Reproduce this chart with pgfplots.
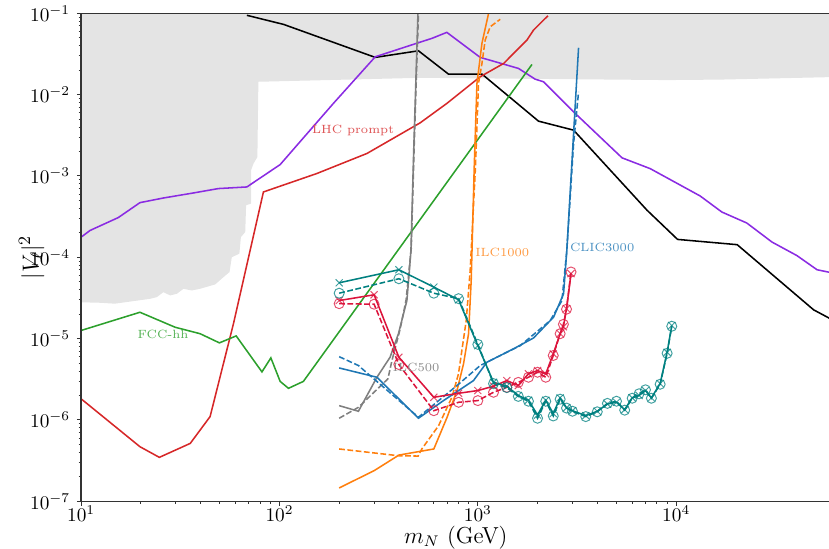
\documentclass[border=0pt]{standalone}
\usepackage{pgfplots}
\pgfplotsset{compat=1.18}
\definecolor{tabblue}{HTML}{1F77B4}
\definecolor{taborange}{HTML}{FF7F0E}
\definecolor{tabgreen}{HTML}{2CA02C}
\definecolor{tabred}{HTML}{D62728}
\definecolor{tabgray}{HTML}{7F7F7F}
\definecolor{violetline}{HTML}{8A2BE2}
\definecolor{crimson}{HTML}{DC143C}
\definecolor{tealc}{HTML}{008080}
\definecolor{shade}{HTML}{E4E4E4}
\begin{document}
\begin{tikzpicture}
\begin{axis}[name=ax,
  scale only axis, width=389pt, height=253.3pt,
  axis on top,
  xmode=log, ymode=log,
  xmin=10, xmax=6e4, ymin=1e-7, ymax=1e-1,
  xtick={10,100,1000,10000},
  ytick={1e-7,1e-6,1e-5,1e-4,1e-3,1e-2,1e-1},
  tick align=outside, xtick pos=bottom, ytick pos=left,
  major tick length=2.2pt, minor tick length=1.3pt,
  axis line style={line width=0.7pt, black!80},
  every tick/.style={black!80, line width=0.5pt},
  xticklabel style={yshift=3.5pt},
  xlabel={$m_N$ (GeV)},
  ylabel={$|V_\ell|^2$},
  xlabel style={font=\fontsize{12}{14}\selectfont, at={(axis description cs:0.5,-0.074)}, anchor=center},
  ylabel style={font=\fontsize{13}{15}\selectfont, at={(axis description cs:-0.066,0.5)}, anchor=center},
  clip=true,
  every axis plot/.append style={line width=0.8pt},
]
% excluded region
\addplot[fill=shade, draw=none] coordinates {
(10,0.1)(6e4,0.1)(6e4,0.01642)(1.669e4,0.01531)(9015,0.0151)(512,0.0161)(78.3,0.0144)
(77.4,1.71e-3)(74,1.42e-3)(71.9,1.175e-3)(71.9,4.57e-4)(67.9,4.36e-4)(67.2,2.04e-4)
(63.9,1.77e-4)(62.8,1.11e-4)(57.5,1.0e-4)(56,6.58e-5)(52.2,5.7e-5)(47.4,4.64e-5)
(39.8,4.1e-5)(36.1,3.91e-5)(32.8,4.1e-5)(30.4,3.56e-5)(28.1,3.4e-5)(26,3.73e-5)
(24.1,3.24e-5)(22.3,3.09e-5)(14.8,2.69e-5)(12.5,2.76e-5)(10,2.8e-5)};
% black
\addplot[black, line width=0.8pt] coordinates {
(68.5,0.0945)(105,0.073)(304,0.0287)(502,0.0346)(711,0.0179)(1049,0.0179)(2023,0.00472)
(3039,0.00366)(7130,3.79e-4)(1.016e4,1.66e-4)(2.03e4,1.43e-4)(4.93e4,2.26e-5)(6e4,1.75e-5)};
% purple
\addplot[violetline] coordinates {
(10,1.77e-4)(11.1,2.14e-4)(15.4,3.08e-4)(19.8,4.7e-4)(26,5.36e-4)(36.8,6.18e-4)(49.2,7.0e-4)
(68.5,7.33e-4)(100.8,1.38e-3)(187,7.8e-3)(304,0.0292)(502,0.0435)(587,0.0492)(698,0.0583)
(1028,0.0287)(1603,0.021)(1945,0.0155)(2143,0.0144)(3039,6.14e-3)(5335,1.67e-3)(7400,1.23e-3)
(1.32e4,5.68e-4)(1.7e4,3.6e-4)(2.27e4,2.64e-4)(3.04e4,1.54e-4)(4.06e4,1.05e-4)(5.13e4,7.03e-5)(6e4,6.5e-5)};
% LHC prompt
\addplot[tabred] coordinates {
(10,1.82e-6)(19.8,4.69e-7)(24.8,3.47e-7)(35.5,5.15e-7)(44.7,1.1e-6)(58.6,1.52e-5)(83,6.36e-4)
(154,1.07e-3)(276,1.89e-3)(512,4.5e-3)(698,7.8e-3)(1028,0.0166)(1350,0.0242)(1769,0.0469)
(1910,0.0623)(2257,0.0934)};
% FCC-hh
\addplot[tabgreen] coordinates {
(10,1.26e-5)(19.8,2.11e-5)(29.8,1.38e-5)(39.8,1.15e-5)(49.8,8.87e-6)(60.5,1.08e-5)(81.6,3.9e-6)
(90.5,5.8e-6)(100.8,2.98e-6)(111,2.45e-6)(132,2.98e-6)(1875,0.0235)};
% ILC500
\addplot[tabgray] coordinates {
(200,1.5e-6)(250,1.28e-6)(310,3.35e-6)(361,5.9e-6)(398,1.15e-5)(439,2.94e-5)(452,6.9e-5)
(460,1.22e-4)(475,2.07e-3)(499,0.1)};
\addplot[tabgray, dash pattern=on 3pt off 1.3pt] coordinates {
(200,1.05e-6)(250,1.43e-6)(352,3.2e-6)(369,5.37e-6)(406,1.32e-5)(435,3.0e-5)(450,7e-5)
(462,1.3e-4)(477,2.1e-3)(502,0.1)};
% ILC1000
\addplot[taborange] coordinates {
(200,1.46e-7)(300,2.38e-7)(400,3.7e-7)(600,4.4e-7)(700,1.08e-6)(785,2.3e-6)(847,4.9e-6)
(898,1.15e-5)(926,5.2e-5)(959,1.29e-3)(990,0.01375)(1049,0.0428)(1133,0.1)};
\addplot[taborange, dash pattern=on 3pt off 1.3pt] coordinates {
(200,4.4e-7)(400,3.63e-7)(500,3.6e-7)(522,4.4e-7)(634,8.5e-7)(740,1.9e-6)(799,3.69e-6)
(874,1.67e-5)(915,6.9e-5)(973,1.29e-3)(1008,0.01375)(1049,0.0242)(1089,0.0469)(1155,0.0684)(1297,0.0844)};
% CLIC3000
\addplot[tabblue] coordinates {
(200,4.36e-6)(310,3.35e-6)(502,1.05e-6)(671,1.73e-6)(951,3.05e-6)(1111,5.13e-6)(1514,7.5e-6)
(1910,1.02e-5)(2410,1.84e-5)(2705,3.56e-5)(2810,1.22e-4)(3039,3.33e-3)(3220,0.0377)};
\addplot[tabblue, dash pattern=on 3pt off 1.3pt] coordinates {
(200,6.0e-6)(250,4.67e-6)(502,1.08e-6)(785,2.65e-6)(1028,4.67e-6)(1297,6.2e-6)(1637,8.2e-6)
(2318,1.67e-5)(2655,2.94e-5)(2810,1.22e-4)(3039,2.5e-3)(3220,0.0108)};
% crimson
\addplot[crimson, mark=x, mark size=2.6pt, mark options={solid, line width=0.5pt, opacity=0.75}] coordinates {
(200,2.94e-5)(300,3.46e-5)(400,5.9e-6)(600,1.9e-6)(800,2.13e-6)(1000,2.3e-6)(1200,2.6e-6)
(1400,3.05e-6)(1600,2.65e-6)(1800,3.69e-6)(2000,4.05e-6)(2200,3.69e-6)(2400,6.5e-6)(2600,1.15e-5)
(2700,1.4e-5)(2800,2.33e-5)(2950,6.3e-5)};
\addplot[crimson, dash pattern=on 3pt off 1.3pt, mark=o, mark size=2.6pt, mark options={solid, line width=0.5pt, opacity=0.75}] coordinates {
(200,2.69e-5)(300,2.65e-5)(400,4.8e-6)(600,1.3e-6)(800,1.65e-6)(1000,1.73e-6)(1200,2.19e-6)
(1400,2.52e-6)(1600,2.9e-6)(1800,3.35e-6)(2000,3.86e-6)(2200,3.35e-6)(2400,6.2e-6)(2600,1.15e-5)
(2700,1.5e-5)(2800,2.3e-5)(2950,6.6e-5)};
% teal
\addplot[tealc, mark=x, mark size=2.6pt, mark options={solid, line width=0.5pt, opacity=0.75}] coordinates {
(200,4.86e-5)(400,7.03e-5)(600,4.3e-5)(800,3.0e-5)(1000,8.2e-6)(1200,2.9e-6)(1400,2.6e-6)
(1600,2.0e-6)(1800,1.75e-6)(2000,1.15e-6)(2200,1.75e-6)(2400,1.2e-6)(2600,1.87e-6)(2800,1.41e-6)
(3000,1.3e-6)(3500,1.13e-6)(4000,1.28e-6)(4500,1.57e-6)(5000,1.65e-6)(5500,1.34e-6)(6000,1.87e-6)
(6500,2.0e-6)(7000,2.3e-6)(7500,1.87e-6)(8300,2.8e-6)(9000,6.8e-6)(9500,1.45e-5)};
\addplot[tealc, dash pattern=on 3pt off 1.3pt, mark=o, mark size=2.6pt, mark options={solid, line width=0.5pt, opacity=0.75}] coordinates {
(200,3.62e-5)(400,5.45e-5)(600,3.62e-5)(800,3.1e-5)(1000,8.5e-6)(1200,2.8e-6)(1400,2.5e-6)
(1600,1.95e-6)(1800,1.7e-6)(2000,1.05e-6)(2200,1.7e-6)(2400,1.12e-6)(2600,1.8e-6)(2800,1.4e-6)
(3000,1.28e-6)(3500,1.1e-6)(4000,1.26e-6)(4500,1.6e-6)(5000,1.7e-6)(5500,1.32e-6)(6000,1.85e-6)
(6500,2.1e-6)(7000,2.35e-6)(7500,1.85e-6)(8300,2.75e-6)(9000,6.6e-6)(9500,1.42e-5)};
% labels
\node[font=\fontsize{6.2}{7}\selectfont, text=tabred!80!white] at (axis cs:235,3.66e-3) {LHC prompt};
\node[font=\fontsize{6.2}{7}\selectfont, text=tabgreen!80!white] at (axis cs:25.9,1.13e-5) {FCC-hh};
\node[font=\fontsize{6.2}{7}\selectfont, text=tabgray!90!white] at (axis cs:489,4.45e-6) {ILC500};
\node[font=\fontsize{6.2}{7}\selectfont, text=taborange!80!white] at (axis cs:1328,1.16e-4) {ILC1000};
\node[font=\fontsize{6.2}{7}\selectfont, text=tabblue!80!white] at (axis cs:4236,1.34e-4) {CLIC3000};
\end{axis}
\pgfresetboundingbox
\path[use as bounding box] ([shift={(-42.1pt,-24.7pt)}]ax.south west) rectangle ([shift={(-0.8pt,6.9pt)}]ax.north east);
\end{tikzpicture}
\end{document}
